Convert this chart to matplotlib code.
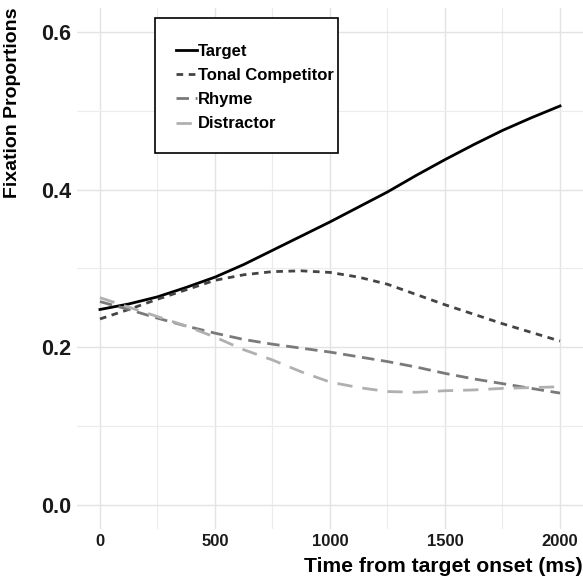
import numpy as np
import matplotlib
matplotlib.use('Agg')
import matplotlib.pyplot as plt
from matplotlib.ticker import MultipleLocator
from matplotlib.patches import Rectangle

# time points (ms) and fixation proportions
time_ms = [0, 125, 250, 375, 500, 625, 750, 875, 1000, 1125, 1250, 1375, 1500, 1625, 1750, 1875, 2000]
target = [.248, .255, .264, .276, .289, .305, .323, .341, .359, .378, .397, .418, .438, .457, .475, .491, .506]
tonal = [.236, .248, .261, .273, .285, .292, .296, .297, .295, .289, .280, .267, .254, .242, .230, .219, .208]
rhyme = [.258, .248, .237, .227, .218, .210, .204, .199, .194, .188, .182, .175, .167, .160, .154, .148, .142]
distractor = [.263, .251, .239, .227, .213, .197, .184, .169, .156, .149, .144, .143, .145, .146, .148, .149, .150]

plt.rcParams['font.family'] = ['Liberation Sans', 'DejaVu Sans']
plt.rcParams['font.weight'] = 'bold'

W = 583.0
fig = plt.figure(figsize=(5.83, 5.83), dpi=100)
ax = fig.add_axes([0.132, 0.093, 0.868, 0.893])

lw = 2.0
ax.plot(time_ms, target, color='black', lw=lw, label='Target')
ax.plot(time_ms, tonal, color='#444444', lw=lw, dashes=(2.4, 2.0), label='Tonal Competitor')
ax.plot(time_ms, rhyme, color='#7a7a7a', lw=lw, dashes=(4.5, 2.4), label='Rhyme')
ax.plot(time_ms, distractor, color='#b0b0b0', lw=lw, dashes=(5.5, 3.6), label='Distractor')

ax.set_xlim(-100, 2100)
ax.set_ylim(-0.03, 0.63)
ax.xaxis.set_major_locator(MultipleLocator(500))
ax.xaxis.set_minor_locator(MultipleLocator(250))
ax.yaxis.set_major_locator(MultipleLocator(0.2))
ax.yaxis.set_minor_locator(MultipleLocator(0.1))
ax.yaxis.set_major_formatter(plt.FuncFormatter(lambda v, p: f'{v:.1f}'))
ax.grid(which='major', color='#e3e3e3', lw=1.0)
ax.grid(which='minor', color='#ececec', lw=0.8)
ax.set_axisbelow(True)
for s in ax.spines.values():
    s.set_visible(False)
ax.tick_params(which='both', length=0, labelcolor='#1a1a1a')
ax.tick_params(axis='y', pad=4, labelsize=15.5)
ax.tick_params(axis='x', pad=4, labelsize=12)

fig.text(0.999, 1 - 567 / W, 'Time from target onset (ms)', ha='right', va='center',
         fontsize=15.2, fontweight='bold')
fig.text(13 / W, 1 - 8 / W, 'Fixation Proportions', ha='center', va='top',
         rotation=90, fontsize=14, fontweight='bold')

# legend box drawn by hand, entries placed inside it
box = Rectangle((155 / W, 1 - 153 / W), 183 / W, 135 / W,
                transform=fig.transFigure, facecolor='white',
                edgecolor='black', lw=1.2, zorder=4, clip_on=False)
ax.add_patch(box)
leg = ax.legend(loc='upper left', bbox_to_anchor=(176 / W, 1 - 44 / W),
                bbox_transform=fig.transFigure, fontsize=12, frameon=False,
                handlelength=1.26, handletextpad=0.08, labelspacing=0.55,
                borderpad=0, borderaxespad=0)
leg.set_zorder(5)

fig.savefig('out.png', dpi=100)
